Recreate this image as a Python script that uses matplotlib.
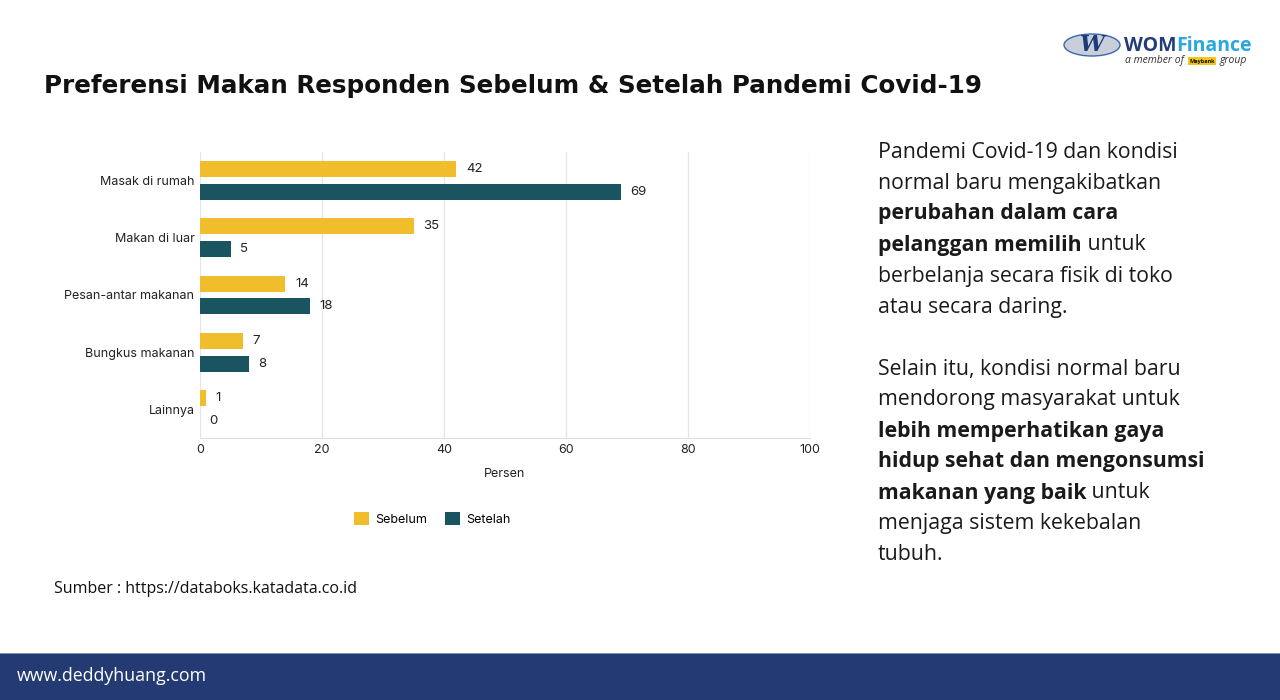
import matplotlib
matplotlib.use("Agg")
import matplotlib.pyplot as plt
from matplotlib.patches import Rectangle, Ellipse
import numpy as np

categories = ["Masak di rumah", "Makan di luar", "Pesan-antar makanan", "Bungkus makanan", "Lainnya"]
sebelum = [42, 35, 14, 7, 1]
setelah = [69, 5, 18, 8, 0]
series_names = ["Sebelum", "Setelah"]
x_ticks = [0, 20, 40, 60, 80, 100]

C_YEL = "#F0BE2C"
C_TEAL = "#1B5461"

W, H = 1280, 700
fig = plt.figure(figsize=(12.8, 7.0), dpi=100)
fig.patch.set_facecolor("white")

def fx(px): return px / W
def fy(py): return 1 - py / H

ax = fig.add_axes([fx(200), fy(438), fx(810) - fx(200), (438 - 152) / H])
y = np.arange(len(categories))
bh = 0.28
b1 = ax.barh(y - 0.2, sebelum, height=bh, color=C_YEL, label=series_names[0], zorder=3)
b2 = ax.barh(y + 0.2, setelah, height=bh, color=C_TEAL, label=series_names[1], zorder=3)
for bars, vals in ((b1, sebelum), (b2, setelah)):
    for rect, v in zip(bars, vals):
        ax.annotate(str(v), (rect.get_width(), rect.get_y() + rect.get_height() / 2),
                    xytext=(7, 0), textcoords="offset points", va="center", ha="left",
                    fontsize=9.5, family="Inter", color="#222222")
ax.set_xlim(0, 100)
ax.set_ylim(4.5, -0.5)
ax.set_xticks(x_ticks)
ax.set_yticks(y)
ax.set_yticklabels(categories)
ax.tick_params(length=0, labelsize=9, colors="#222222", pad=4)
for lbl in ax.get_xticklabels() + ax.get_yticklabels():
    lbl.set_family("Inter")
ax.grid(axis="x", color="#E6E6E6", linewidth=1, zorder=0)
for s in ax.spines.values():
    s.set_visible(False)
ax.spines["bottom"].set_visible(True)
ax.spines["bottom"].set_color("#E0E0E0")
ax.set_xlabel("Persen", fontsize=9, family="Inter", color="#222222", labelpad=9)

leg = fig.legend(handles=[b1, b2], labels=series_names, loc="center", bbox_to_anchor=(fx(432), fy(519)),
                 ncol=2, frameon=False, prop={"family": "Inter", "size": 9},
                 handlelength=1.2, handleheight=1.2, columnspacing=1.4, handletextpad=0.5)

fig.canvas.draw()
renderer = fig.canvas.get_renderer()

# Title (size fitted to the reference width)
title = fig.text(fx(44), fy(86), "Preferensi Makan Responden Sebelum & Setelah Pandemi Covid-19",
                 fontsize=19, fontweight="bold", family="DejaVu Sans", color="#111111",
                 va="center", ha="left")
tw = title.get_window_extent(renderer=renderer).width
title.set_fontsize(19 * 939 / tw)

# Right-side rich text
lines = [
    [("Pandemi Covid-19 dan kondisi", False)],
    [("normal baru mengakibatkan", False)],
    [("perubahan dalam cara", True)],
    [("pelanggan memilih", True), (" untuk", False)],
    [("berbelanja secara fisik di toko", False)],
    [("atau secara daring.", False)],
    [],
    [("Selain itu, kondisi normal baru", False)],
    [("mendorong masyarakat untuk", False)],
    [("lebih memperhatikan gaya", True)],
    [("hidup sehat dan mengonsumsi", True)],
    [("makanan yang baik", True), (" untuk", False)],
    [("menjaga sistem kekebalan", False)],
    [("tubuh.", False)],
]
y0 = 152
for i, segs in enumerate(lines):
    xpx = 878
    ypx = y0 + i * 31
    for txt, bold in segs:
        t = fig.text(fx(xpx), fy(ypx), txt, fontsize=15.3, family="Open Sans",
                     fontweight="bold" if bold else "normal", color="#1a1a1a",
                     va="center", ha="left")
        bb = t.get_window_extent(renderer=renderer)
        xpx += bb.width

# Source
fig.text(fx(54), fy(589), "Sumber : https://databoks.katadata.co.id", fontsize=11.5,
         family="Open Sans", color="#111111", va="center", ha="left")

# Footer band
fig.add_artist(Rectangle((0, 0), 1, (700 - 653) / H, transform=fig.transFigure,
                         facecolor="#243A72", edgecolor="none"))
fig.add_artist(Rectangle((0, (700 - 654) / H), 1, 1.5 / H, transform=fig.transFigure,
                         facecolor="#8A93AE", edgecolor="none"))
fig.text(fx(17), fy(676), "www.deddyhuang.com", fontsize=12.8, family="Open Sans",
         color="white", va="center", ha="left")

# Logo
fig.add_artist(Ellipse((fx(1092), fy(45)), 56 / W, 22 / H, transform=fig.transFigure,
                       facecolor="#C9CFDA", edgecolor="#3A67B0", linewidth=1))
fig.text(fx(1092), fy(45), "W", fontsize=16, fontstyle="italic", fontweight="bold",
         family="DejaVu Serif", color="#1E3A7A", va="center", ha="center")
t1 = fig.text(fx(1124), fy(46), "WOM", fontsize=14, fontweight="bold", family="Open Sans",
              color="#233D7B", va="center", ha="left")
bb = t1.get_window_extent(renderer=renderer)
fig.text(fx(1124) + bb.width / W, fy(46), "Finance", fontsize=14, fontweight="bold",
         family="Open Sans", color="#2AA7DF", va="center", ha="left")
fig.text(fx(1125), fy(61), "a member of", fontsize=7.5, fontstyle="italic", family="Open Sans",
         color="#333333", va="center", ha="left")
fig.add_artist(Rectangle((fx(1188), fy(64.5)), 28 / W, 7 / H, transform=fig.transFigure,
                         facecolor="#F5C518", edgecolor="none"))
fig.text(fx(1202), fy(61), "Maybank", fontsize=4, fontweight="bold", family="Open Sans",
         color="#111111", va="center", ha="center")
fig.text(fx(1219), fy(61), "group", fontsize=7.5, fontstyle="italic", family="Open Sans",
         color="#333333", va="center", ha="left")

fig.savefig("out.png", dpi=100, facecolor="white")
